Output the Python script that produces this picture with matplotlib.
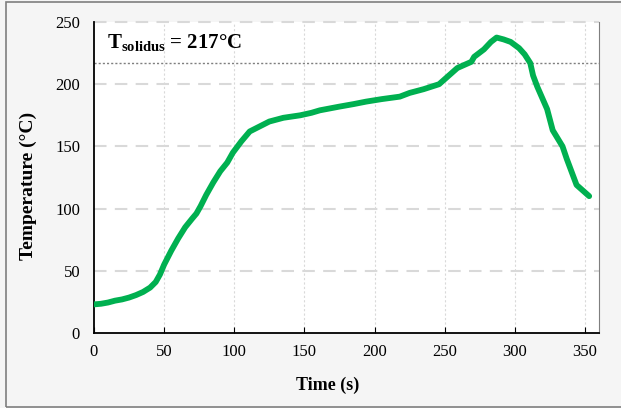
import matplotlib.pyplot as plt
from matplotlib.patches import Rectangle

# time (s) and temperature (C)
time = [0, 5, 10, 15, 20, 25, 30, 35, 40, 44, 47, 50, 55, 60, 65, 70, 73, 76,
        80, 85, 90, 95, 99, 105, 111, 118, 125, 135, 147, 155, 161, 175, 185,
        194, 205, 218, 225, 235, 246, 252, 259, 265, 269, 271, 278, 283, 287,
        292, 297, 303, 307, 311, 313, 316, 323, 327, 334, 337, 342, 344, 350, 353]
temp = [23, 23.5, 24.5, 26, 27, 28.5, 30.5, 33, 36.5, 41, 47, 55, 66, 76, 85, 92,
        96, 102, 111, 121, 130, 137, 145, 154, 162, 166, 170, 173, 175, 177, 179,
        182, 184, 186, 188, 190, 193, 196, 200, 206, 213, 216, 218, 222, 228, 234,
        237.5, 236, 234, 229, 224, 217, 207, 198, 180, 163, 150, 140, 125, 119, 113, 110]
t_solidus = 217

xticks = [0, 50, 100, 150, 200, 250, 300, 350]
yticks = [0, 50, 100, 150, 200, 250]

plt.rcParams['font.family'] = ['Liberation Serif', 'DejaVu Serif']
plt.rcParams['mathtext.fontset'] = 'custom'
plt.rcParams['mathtext.rm'] = 'Liberation Serif'
plt.rcParams['mathtext.bf'] = 'Liberation Serif:bold'

fig = plt.figure(figsize=(6.21, 4.08), dpi=100, facecolor='#f5f5f5')
fig.patches.append(Rectangle((6 / 621, 1 / 408), 620 / 621, 405 / 408, transform=fig.transFigure,
                             fill=False, edgecolor='#7f7f7f', linewidth=1.2))
ax = fig.add_axes([94 / 621, 75 / 408, 505 / 621, 311 / 408])
ax.set_facecolor('white')

ax.set_xlim(0, 360)
ax.set_ylim(0, 250)
ax.set_xticks(xticks)
ax.set_yticks(yticks)

for y in yticks[1:]:
    ax.axhline(y, color='#d9d9d9', linestyle=(0, (6, 4)), linewidth=1.5, zorder=1, clip_on=False)
for x in xticks[1:]:
    ax.axvline(x, color='#d9d9d9', linestyle=(0, (2, 2)), linewidth=0.8, zorder=1)

ax.axhline(t_solidus, color='#7f7f7f', linestyle=(0, (1.5, 1.5)), linewidth=1.0, zorder=2)
ax.plot(time, temp, color='#00b050', linewidth=4.2, solid_capstyle='round', zorder=3)

ax.text(9, 229, r'$\mathbf{T_{solidus}}$ = ' + f'{t_solidus}°C', fontsize=15,
        fontweight='bold', va='baseline')

ax.spines['top'].set_visible(False)
ax.spines['right'].set_color('#7f7f7f')
ax.spines['left'].set_linewidth(1.3)
ax.spines['bottom'].set_linewidth(1.3)
ax.tick_params(axis='x', direction='in', length=4, labelsize=12, pad=8)
ax.tick_params(axis='y', length=0, labelsize=12, pad=10)

ax.set_xlabel('Time (s)', fontsize=13, fontweight='bold')
ax.set_ylabel('Temperature (°C)', fontsize=14, fontweight='bold')
ax.xaxis.set_label_coords(0.463, -0.167)
ax.yaxis.set_label_coords(-0.13, 0.473)
ax.yaxis.label.set_verticalalignment('center')
ax.xaxis.label.set_verticalalignment('center')

fig.savefig('out.png', dpi=100, facecolor=fig.get_facecolor())
